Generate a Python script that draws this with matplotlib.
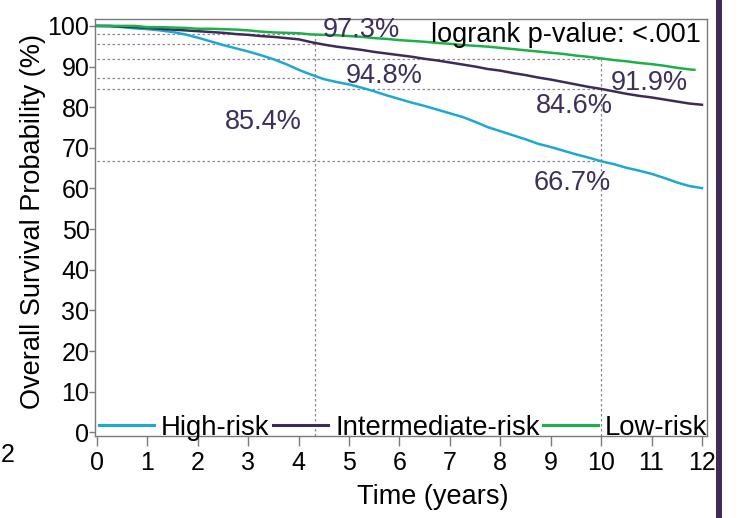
import numpy as np
import matplotlib
matplotlib.use('Agg')
import matplotlib.pyplot as plt
from matplotlib.patches import Rectangle

plt.rcParams['font.family'] = ['Liberation Sans', 'DejaVu Sans']

# survival estimates (%) read every quarter year
years = np.arange(0, 12.01, 0.25)
high_risk = [100.0, 99.9, 99.7, 99.4, 99.2, 98.9, 98.5, 97.9, 97.1, 96.2, 95.3, 94.5,
             93.7, 92.8, 91.8, 90.6, 89.2, 88.0, 86.9, 86.2, 85.6, 84.8, 83.9, 82.9,
             82.0, 81.1, 80.3, 79.4, 78.5, 77.6, 76.4, 75.1, 74.1, 73.1, 72.1, 71.0,
             70.2, 69.3, 68.4, 67.6, 66.7, 66.0, 65.1, 64.4, 63.6, 62.6, 61.5, 60.6, 60.1]
intermediate_risk = [100.0, 100.0, 99.8, 99.7, 99.5, 99.3, 99.1, 98.9, 98.7, 98.5, 98.3, 98.0,
                     97.8, 97.5, 97.3, 97.0, 96.7, 96.0, 95.4, 94.9, 94.5, 94.1, 93.6, 93.2,
                     92.8, 92.4, 91.9, 91.5, 91.0, 90.5, 90.0, 89.4, 89.0, 88.4, 87.9, 87.3,
                     86.8, 86.2, 85.6, 85.0, 84.5, 83.9, 83.3, 82.8, 82.4, 81.9, 81.4, 80.9, 80.6]
low_risk = [100.0, 100.0, 100.0, 100.0, 99.7, 99.7, 99.6, 99.5, 99.3, 99.3, 99.2, 99.1,
            98.9, 98.6, 98.4, 98.3, 98.2, 97.9, 97.8, 97.7, 97.5, 97.3, 97.0, 96.8,
            96.5, 96.3, 96.1, 95.8, 95.6, 95.3, 95.1, 94.9, 94.6, 94.3, 94.0, 93.7,
            93.4, 93.1, 92.7, 92.4, 92.0, 91.6, 91.3, 90.9, 90.6, 90.2, 89.7, 89.3, 89.2]
low_risk_years = list(years[:-1]) + [11.85]

groups = ['High-risk', 'Intermediate-risk', 'Low-risk']
colors = ['#1ba9d4', '#3e2c58', '#1db04a']

# reference marks
ref_time_a = 4.33
ref_values_a = [87.1, 95.6, 97.9]
ref_time_b = 10
surv_5y = [85.4, 94.8, 97.3]
surv_10y = [66.7, 84.6, 91.9]
pvalue_text = 'logrank p-value: <.001'

fig = plt.figure(figsize=(7.38, 5.18), dpi=100)
ax = fig.add_axes([95/738, 1-436/518, 612/738, 417/518])

ref_style = dict(color='#8a8494', linestyle=(0, (2, 2)), linewidth=0.9, zorder=1)
ymin = -0.9
for v in ref_values_a:
    ax.plot([0, ref_time_a], [v, v], **ref_style)
ax.plot([ref_time_a, ref_time_a], [ymin, max(ref_values_a)], **ref_style)
for v in surv_10y:
    ax.plot([0, ref_time_b], [v, v], **ref_style)
ax.plot([ref_time_b, ref_time_b], [ymin, max(surv_10y)], **ref_style)

series = [(years, high_risk), (years, intermediate_risk), (low_risk_years, low_risk)]
for (t, s), name, c in zip(series, groups, colors):
    ax.plot(t, s, color=c, linewidth=1.8, label=name, zorder=3)

# percentage annotations
label_color = '#3e2f5b'
pos_5y = [(3.29, 74.6), (5.69, 85.9), (5.24, 97.2)]
pos_10y = [(9.43, 59.6), (9.47, 78.6), (10.96, 84.3)]
for v, (x, y) in zip(surv_5y + surv_10y, pos_5y + pos_10y):
    ax.text(x, y, f'{v}%', ha='center', va='baseline', fontsize=19.5, color=label_color, zorder=4)
ax.text(0.99, 0.945, pvalue_text, transform=ax.transAxes, ha='right', va='baseline',
        fontsize=19.5, color='black', zorder=4)

ax.set_xlim(-0.04, 12.1)
ax.set_ylim(ymin, 101.7)
ax.set_xticks(range(0, 13))
ax.set_yticks(range(0, 101, 10))
ax.tick_params(axis='both', labelsize=18, colors='#7a7a7a', labelcolor='black', width=1)
ax.tick_params(axis='x', length=7, pad=3.5)
ax.tick_params(axis='y', length=4.5, pad=-0.5)
for sp in ax.spines.values():
    sp.set_color('#7a7a7a')
    sp.set_linewidth(1)

ax.set_xlabel('Time (years)', fontsize=19.5)
ax.set_ylabel('Overall Survival Probability (%)', fontsize=19.5)
ax.xaxis.set_label_coords(0.552, -0.115)
ax.xaxis.label.set_va('top')
ax.yaxis.set_label_coords(-0.080, 0.514)

leg = ax.legend(loc='lower left', bbox_to_anchor=(0.006, -0.012), ncol=3, frameon=False,
                fontsize=19.8, handlelength=2.0, handletextpad=0.27, columnspacing=0.11,
                borderpad=0, borderaxespad=0)
for ln in leg.get_lines():
    ln.set_linewidth(2.2)

# neighbouring panel edge
fig.text(0.001, 1-455/518, '2', fontsize=18, va='center', ha='left')
fig.add_artist(Rectangle((716/738, 0), 6/738, 1, transform=fig.transFigure,
                         color='#3f2d57', linewidth=0))

fig.savefig('out.png', dpi=100)
